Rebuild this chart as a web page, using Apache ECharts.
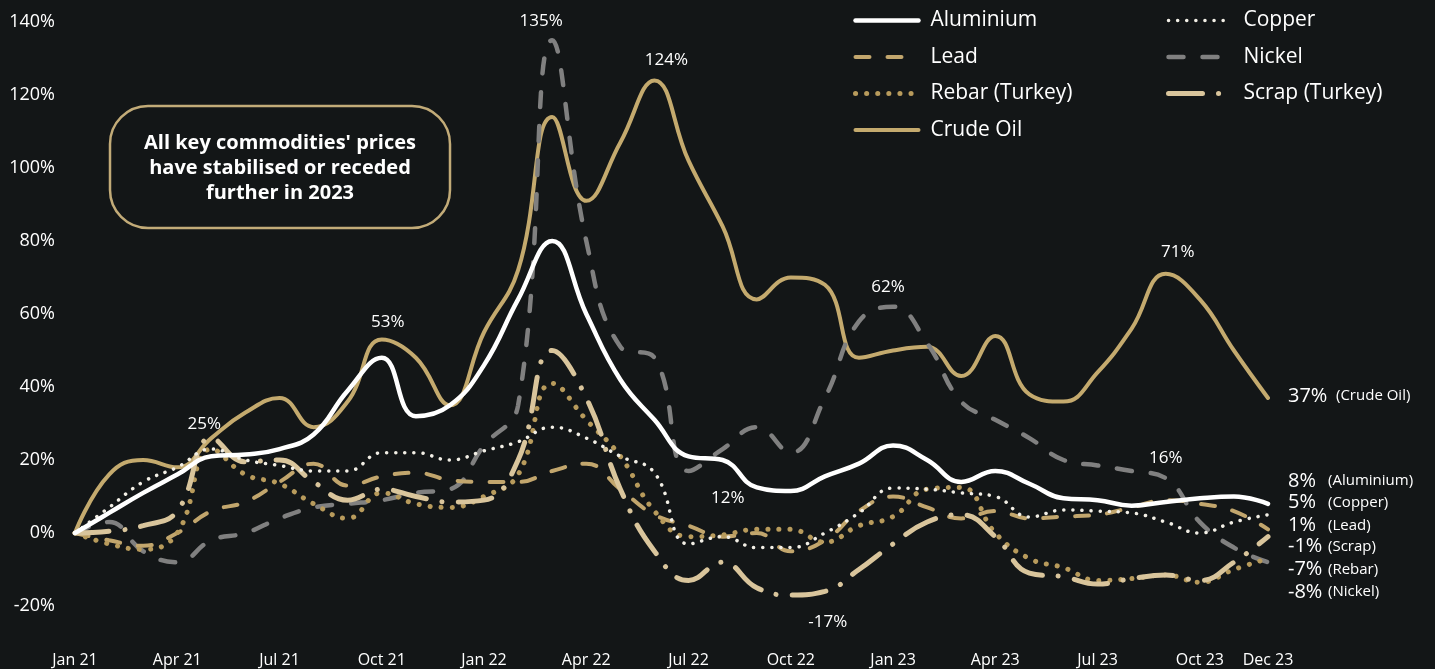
<!DOCTYPE html>
<html>
<head>
<meta charset="utf-8">
<script src="https://cdn.jsdelivr.net/npm/echarts@6/dist/echarts.min.js"></script>
<style>
    html, body { margin: 0; padding: 0; background: #131617; }
    #myChart { width: 1435px; height: 669px; }
</style>
</head>
<body>
<div id="myChart"></div>
<script>
    // monthly % change since Jan 2021
    const months = ['Jan 21', 'Feb 21', 'Mar 21', 'Apr 21', 'May 21', 'Jun 21', 'Jul 21', 'Aug 21', 'Sep 21', 'Oct 21', 'Nov 21', 'Dec 21',
        'Jan 22', 'Feb 22', 'Mar 22', 'Apr 22', 'May 22', 'Jun 22', 'Jul 22', 'Aug 22', 'Sep 22', 'Oct 22', 'Nov 22', 'Dec 22',
        'Jan 23', 'Feb 23', 'Mar 23', 'Apr 23', 'May 23', 'Jun 23', 'Jul 23', 'Aug 23', 'Sep 23', 'Oct 23', 'Nov 23', 'Dec 23'];

    const aluminium = [0, 5.5, 11, 16, 21, 21.5, 23, 27, 39, 48, 32, 35, 46, 64, 80, 60, 42, 31, 21, 20, 12.5, 11.5, 15.5, 19, 24, 20, 14, 17, 13.5, 9.5, 9, 7.5, 8.5, 9.5, 10, 8];
    const copper = [0, 7, 14, 18, 23, 20, 18.5, 17, 17, 22, 22, 20, 22.5, 25, 29, 26, 21, 16.5, -3, -1, -4, -4, 0, 5.5, 12.3, 12, 11, 10, 4.4, 6.3, 6, 5.5, 3, 0, 3, 5];
    const lead = [0, -2, -3.5, 0, 6, 8.5, 14, 19, 13, 15.5, 16.5, 14.5, 14, 14, 17, 19, 12, 5, 2, -1, 0, -5, -2, 6, 10, 7, 4, 6, 4, 4.5, 5, 7, 9, 8, 6, 1];
    const nickel = [0, 3, -5, -8, -2, 0, 4, 7, 8, 9, 11, 12, 24, 35, 135, 80, 51, 48, 17, 23, 29, 22, 37, 58, 62, 52, 36, 31, 26, 20, 18.5, 17, 15, 3, -4, -8];
    const rebar = [0, -3, -4.5, 0, 23, 16, 13.5, 8, 4, 11, 8, 7, 10, 16, 41, 31, 21, 6, -1, -0.5, 1, 1, -2.5, 2, 4.5, 12, 12.5, 0, -7, -9.5, -13, -12.5, -11.5, -13.5, -10, -7];
    const scrap = [0, 0.5, 2, 6, 26, 19.5, 20, 14, 9, 12, 10, 8.5, 9, 20, 50, 37, 12, -5, -13, -8, -15, -17, -16, -10, -3, 3, 5, -1, -11, -12, -14, -12.5, -11.5, -13, -8, -1];
    const crudeOil = [0, 16, 20, 18, 26, 33, 37, 29, 36, 53, 48, 35, 55, 72, 114, 91, 107, 124, 102, 84, 64, 70, 68, 48, 50, 51, 43, 54, 38, 36, 44, 56, 71, 64, 50, 37];

    const seriesDefs = [
        {name: 'Crude Oil', short: 'Crude Oil', data: crudeOil, color: '#c4aa6e', width: 4, type: 'solid', endDy: -2, vw: 48,
            notes: [[9, '53%', [6, -17]], [17, '124%', [12, -20]], [32, '71%', [12, -22]]]},
        {name: 'Nickel', short: 'Nickel', data: nickel, color: '#808080', width: 4.5, type: [15, 19], endDy: 30, vw: 40,
            notes: [[14, '135%', [-11, -19]], [24, '62%', [-5, -20]], [32, '16%', [0, -20]]]},
        {name: 'Lead', short: 'Lead', data: lead, color: '#c2a66d', width: 4, type: [14, 18], endDy: -4, vw: 40, notes: []},
        {name: 'Rebar (Turkey)', short: 'Rebar', data: rebar, color: '#b89b5c', width: 5, type: [0.1, 11], endDy: 11, vw: 40, notes: []},
        {name: 'Scrap (Turkey)', short: 'Scrap', data: scrap, color: '#d9c59c', width: 5, type: [34, 16, 0.1, 16], endDy: 10, vw: 40,
            notes: [[4, '25%', [-7, -14]], [21, '-17%', [37, 27]]]},
        {name: 'Copper', short: 'Copper', data: copper, color: '#f2efe6', width: 3.5, type: [0.1, 9], endDy: -12, vw: 40, notes: []},
        {name: 'Aluminium', short: 'Aluminium', data: aluminium, color: '#ffffff', width: 4.5, type: 'solid', endDy: -23, vw: 40,
            notes: [[20, '12%', [-29, 11]]]}
    ];

    const font = '"Open Sans", "Noto Sans", sans-serif';
    const myChart = echarts.init(document.getElementById('myChart'));

    const series = seriesDefs.map(function (d) {
        return {
            name: d.name,
            type: 'line',
            smooth: 0.45,
            symbol: 'none',
            data: d.data,
            color: d.color,
            lineStyle: {color: d.color, width: d.width, type: d.type, cap: 'round'},
            endLabel: {
                show: true,
                distance: 20,
                offset: [0, d.endDy],
                formatter: function (p) {
                    return '{v|' + Math.round(p.value) + '%}{n|(' + d.short + ')}';
                },
                rich: {
                    v: {color: '#fff', fontSize: 20, fontFamily: font, width: d.vw},
                    n: {color: '#fff', fontSize: 15, fontFamily: font}
                }
            },
            markPoint: {
                symbol: 'circle',
                symbolSize: 1,
                itemStyle: {color: 'transparent'},
                label: {color: '#fff', fontSize: 17, fontFamily: font, position: 'inside'},
                data: d.notes.map(function (n) {
                    return {
                        coord: [months[n[0]], d.data[n[0]]],
                        label: {formatter: n[1], offset: n[2]}
                    };
                })
            }
        };
    });

    const legendBase = {
        orient: 'vertical', top: 5,
        itemWidth: 63, itemHeight: 16, itemGap: 15.5,
        itemStyle: {opacity: 0},
        lineStyle: {width: 'inherit'},
        textStyle: {color: '#fff', fontSize: 21, fontFamily: font, padding: [0, 0, 0, 7]}
    };

    myChart.setOption({
        backgroundColor: '#131617',
        animation: false,
        grid: {left: 75, right: 167, top: 22, bottom: 63},
        legend: [
            Object.assign({data: ['Aluminium', 'Lead', 'Rebar (Turkey)', 'Crude Oil'], left: 848}, legendBase),
            Object.assign({data: ['Copper', 'Nickel', 'Scrap (Turkey)'], left: 1161}, legendBase)
        ],
        xAxis: {
            type: 'category',
            boundaryGap: false,
            data: months,
            axisLine: {show: false},
            axisTick: {show: false},
            axisLabel: {
                color: '#fff', fontSize: 16, fontFamily: font, margin: 46,
                interval: function (i) { return i % 3 === 0 || i === 35; }
            }
        },
        yAxis: {
            type: 'value',
            min: -20, max: 140, interval: 20,
            axisLine: {show: false},
            axisTick: {show: false},
            splitLine: {show: false},
            axisLabel: {color: '#fff', fontSize: 18, fontFamily: font, margin: 20, formatter: '{value}%'}
        },
        graphic: [
            {
                type: 'rect',
                shape: {x: 110, y: 106, width: 340, height: 122, r: 38},
                style: {fill: 'transparent', stroke: '#c2ab78', lineWidth: 2.5}
            },
            {
                type: 'text',
                x: 280, y: 168,
                style: {
                    text: "All key commodities' prices\nhave stabilised or receded\nfurther in 2023",
                    fill: '#fff',
                    font: 'bold 20px ' + font,
                    lineHeight: 25,
                    align: 'center',
                    verticalAlign: 'middle'
                }
            }
        ],
        series: series
    });
</script>
</body>
</html>
